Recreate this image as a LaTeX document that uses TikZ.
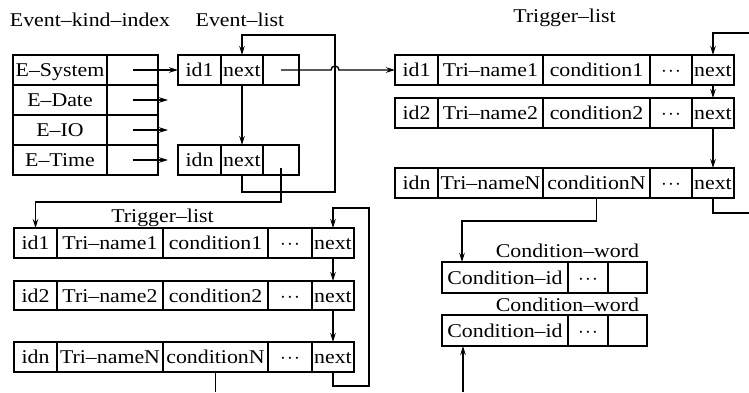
\documentclass[tikz,border=0pt]{standalone}
\usepackage{fontspec}
\setmainfont[FakeStretch=1.12]{Liberation Serif}
\usetikzlibrary{arrows.meta,calc}
\tikzset{
  txt/.style={font=\fontsize{19.5}{21}\selectfont},
  cellbox/.style={txt, draw, line width=1.4pt, inner sep=0pt, outer sep=0pt, text height=13pt, text depth=0pt},
  lbl/.style={txt, inner sep=0pt, anchor=base},
  conn/.style={line width=1.4pt},
  arr/.style={conn, -{Stealth[length=9pt,width=5.5pt]}},
}
\newcommand\mycell[6]{\node[cellbox, minimum width={#3pt-#2pt}, minimum height={#5pt-#4pt}] (#1) at ({(#2+#3)/2},{(#4+#5)/2}) {#6};}
\newcommand\dotsx{$\cdot\!\cdot\!\cdot$}
\begin{document}
\begin{tikzpicture}[x=1pt,y=-1pt]
\useasboundingbox (0,0) rectangle (749,392);
% labels
\node[lbl] (lk) at (90,26) {Event–kind–index};
\node[lbl] (le) at (240,26) {Event–list};
\node[lbl] (lt1) at (564.5,22) {Trigger–list};
\node[lbl] (lt2) at (162.5,222) {Trigger–list};
\node[lbl] (lw1) at (567.5,257) {Condition–word};
\node[lbl] (lw2) at (567.5,311) {Condition–word};
% event kind index
\mycell{ka}{13}{107}{55}{85}{E–System}
\mycell{kav}{107}{158}{55}{85}{}
\mycell{kb}{13}{107}{85}{115}{E–Date}
\mycell{kbv}{107}{158}{85}{115}{}
\mycell{kc}{13}{107}{115}{145}{E–IO}
\mycell{kcv}{107}{158}{115}{145}{}
\mycell{kd}{13}{107}{145}{175}{E–Time}
\mycell{kdv}{107}{158}{145}{175}{}
% event list
\mycell{ea1}{178}{221}{55}{85}{id1}
\mycell{ea2}{221}{263}{55}{85}{next}
\mycell{ea3}{263}{299}{55}{85}{}
\mycell{en1}{178}{221}{145}{175}{idn}
\mycell{en2}{221}{263}{145}{175}{next}
\mycell{en3}{263}{299}{145}{175}{}
% upper trigger list
\mycell{ta1}{395}{438}{55}{85}{id1}
\mycell{ta2}{438}{543}{55}{85}{Tri–name1}
\mycell{ta3}{543}{650}{55}{85}{condition1}
\mycell{ta4}{650}{692}{55}{85}{\dotsx}
\mycell{ta5}{692}{734}{55}{85}{next}
\mycell{tb1}{395}{438}{98}{128}{id2}
\mycell{tb2}{438}{543}{98}{128}{Tri–name2}
\mycell{tb3}{543}{650}{98}{128}{condition2}
\mycell{tb4}{650}{692}{98}{128}{\dotsx}
\mycell{tb5}{692}{734}{98}{128}{next}
\mycell{tc1}{395}{438}{168}{198}{idn}
\mycell{tc2}{438}{543}{168}{198}{Tri–nameN}
\mycell{tc3}{543}{650}{168}{198}{conditionN}
\mycell{tc4}{650}{692}{168}{198}{\dotsx}
\mycell{tc5}{692}{734}{168}{198}{next}
% lower trigger list
\mycell{la1}{14}{57}{228}{258}{id1}
\mycell{la2}{57}{163}{228}{258}{Tri–name1}
\mycell{la3}{163}{268}{228}{258}{condition1}
\mycell{la4}{268}{312}{228}{258}{\dotsx}
\mycell{la5}{312}{354}{228}{258}{next}
\mycell{lb1}{14}{57}{281}{310}{id2}
\mycell{lb2}{57}{163}{281}{310}{Tri–name2}
\mycell{lb3}{163}{268}{281}{310}{condition2}
\mycell{lb4}{268}{312}{281}{310}{\dotsx}
\mycell{lb5}{312}{354}{281}{310}{next}
\mycell{lc1}{14}{57}{342}{372}{idn}
\mycell{lc2}{57}{163}{342}{372}{Tri–nameN}
\mycell{lc3}{163}{268}{342}{372}{conditionN}
\mycell{lc4}{268}{312}{342}{372}{\dotsx}
\mycell{lc5}{312}{354}{342}{372}{next}
% condition words
\mycell{wa1}{442}{568}{262}{293}{Condition–id}
\mycell{wa2}{568}{608}{262}{293}{\dotsx}
\mycell{wa3}{608}{647}{262}{293}{}
\mycell{wb1}{442}{568}{315}{346}{Condition–id}
\mycell{wb2}{568}{608}{315}{346}{\dotsx}
\mycell{wb3}{608}{647}{315}{346}{}
% coordinates
\coordinate (kbe) at (168,100);
\coordinate (kce) at (168,130);
\coordinate (kde) at (168,160);
\coordinate (ela) at (335,192);
\coordinate (elb) at (335,35);
\coordinate (hop) at (331,70);
\coordinate (rtop) at (749,33);
\coordinate (rbot) at (749,213);
\coordinate (wbin) at (463,392);
\coordinate (lla) at (369,386);
\coordinate (llb) at (369,208);
\coordinate (lcb) at (215.5,392);
% connectors
\draw[arr] (kav.center) -- (ea1.west);
\draw[arr] (kbv.center) -- (kbe);
\draw[arr] (kcv.center) -- (kce);
\draw[arr] (kdv.center) -- (kde);
\draw[arr] (ea2.south) -- (en2.north);
\draw[arr] (en2.south) |- (ela) -- (elb) -| (ea2.north);
\draw[arr] (ea3.center) -- (hop) arc[start angle=180,end angle=0,radius=4pt] -- (ta1.west);
\draw[arr] ([yshift=-8pt]en3.center) |- ([yshift=26pt]la1.north) -- (la1.north);
\draw[arr] (rtop) -| (ta5.north);
\draw[arr] (ta5.south) -- (tb5.north);
\draw[arr] (tb5.south) -- (tc5.north);
\draw[conn] (tc5.south) |- (rbot);
\draw[arr] (tc3.south) -- ++(0,23) -| ([xshift=20pt]wa1.north west);
\draw[arr] (wbin) -- ([xshift=21pt]wb1.south west);
\draw[arr] (la5.south) -- (lb5.north);
\draw[arr] (lb5.south) -- (lc5.north);
\draw[arr] (lc5.south) |- (lla) -- (llb) -| (la5.north);
\draw[conn] (lc3.south) -- (lcb);
\end{tikzpicture}
\end{document}
